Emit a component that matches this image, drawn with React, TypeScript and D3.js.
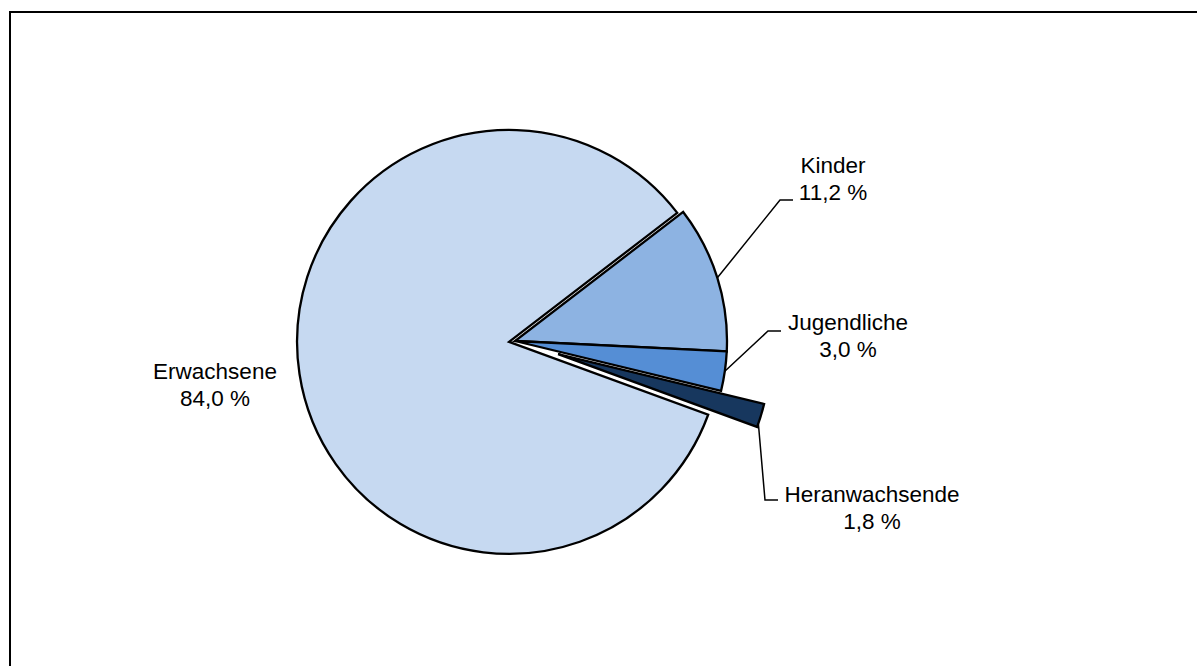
import * as d3 from "d3";

const categories = ["Kinder", "Jugendliche", "Heranwachsende", "Erwachsene"];
const shares = [11.2, 3.0, 1.8, 84.0];
const colors = ["#8DB3E2", "#558ED5", "#17375E", "#C6D9F1"];
const explode = [0, 0, 45, 6]; // px the slice is pulled out
// where on the slice edge the leader starts (0 = start angle, 1 = end angle)
const leaderAt = [0.5, 0.5, 0.85, 0.5];
// label anchor (centre of text block, first baseline) relative to pie centre
const labelPos: [number, number][] = [
  [318, -168],
  [333, -11],
  [357, 161],
  [-300, 38],
];
// leader elbow relative to pie centre (null = no leader)
const elbowPos: ([number, number] | null)[] = [
  [265, -141],
  [253, -10],
  [250, 159],
  null,
];

const W = 1197;
const H = 666;
const cx = 515;
const cy = 341;
const radius = 212;
const fmt = (v: number) => v.toFixed(1).replace(".", ",") + " %";

export default function App() {
  const pie = d3
    .pie<number>()
    .sort(null)
    .startAngle((52.5 * Math.PI) / 180)
    .endAngle((52.5 * Math.PI) / 180 + 2 * Math.PI)
    .value((d) => d);
  const arcs = pie(shares);
  const arc = d3.arc<d3.PieArcDatum<number>>().innerRadius(0).outerRadius(radius);

  const offset = (a: d3.PieArcDatum<number>, i: number): [number, number] => {
    const mid = (a.startAngle + a.endAngle) / 2;
    return [Math.sin(mid) * explode[i], -Math.cos(mid) * explode[i]];
  };

  return (
    <svg
      width={W}
      height={H}
      style={{ position: "absolute", left: 0, top: 0, display: "block", background: "#fff" }}
      fontFamily="'Liberation Sans', Arial, sans-serif"
    >
      <rect x={10} y={12} width={W + 20} height={H + 20} fill="none" stroke="#000" strokeWidth={2} />
      <g transform={`translate(${cx},${cy})`}>
        {arcs.map((a, i) => {
          const [ox, oy] = offset(a, i);
          return (
            <path
              key={categories[i]}
              d={arc(a) || ""}
              transform={`translate(${ox},${oy})`}
              fill={colors[i]}
              stroke="#000"
              strokeWidth={2.3}
              strokeLinejoin="miter"
            />
          );
        })}
        {arcs.map((a, i) => {
          const elbow = elbowPos[i];
          if (!elbow) return null;
          const [ox, oy] = offset(a, i);
          const ang = a.startAngle + (a.endAngle - a.startAngle) * leaderAt[i];
          const sx = ox + Math.sin(ang) * radius;
          const sy = oy - Math.cos(ang) * radius;
          const line = d3.line()([
            [sx, sy],
            elbow,
            [elbow[0] + 13, elbow[1]],
          ]);
          return <path key={"l" + i} d={line || ""} fill="none" stroke="#000" strokeWidth={1.5} />;
        })}
        {arcs.map((a, i) => (
          <text
            key={"t" + i}
            x={labelPos[i][0]}
            y={labelPos[i][1]}
            textAnchor="middle"
            fontSize={22.5}
            fill="#000"
          >
            <tspan x={labelPos[i][0]}>{categories[i]}</tspan>
            <tspan x={labelPos[i][0]} dy={27}>
              {fmt(a.data)}
            </tspan>
          </text>
        ))}
      </g>
    </svg>
  );
}
